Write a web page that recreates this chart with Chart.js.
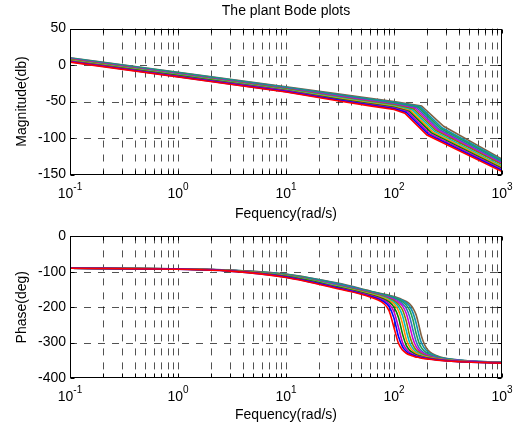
<!DOCTYPE html>
<html>
<head>
<meta charset="utf-8">
<script src="https://cdn.jsdelivr.net/npm/chart.js@4.4.0/dist/chart.umd.min.js"></script>
<style>
  html, body { margin: 0; padding: 0; background: #fff; }
  #wrap { position: relative; width: 514px; height: 427px; }
  .plot { position: absolute; left: 0; width: 514px; }
</style>
</head>
<body>
<div id="wrap">
  <div class="plot" style="top:0;height:224px"><canvas id="mag"></canvas></div>
  <div class="plot" style="top:224px;height:203px"><canvas id="phase"></canvas></div>
</div>
<script>
// --- data (12 curves, 0 = lowest resonance) ---
const magFreqLow = [0.1, 1, 10, 30, 60, 100];
const magLow = [
  [4, -16.5, -37, -49, -56, -61],
  [4.5, -16, -36.5, -48, -55, -60],
  [5, -15.5, -35.5, -47.5, -54, -59],
  [5.5, -14.5, -35, -46.5, -53, -58],
  [6, -14, -34.5, -45.5, -52, -57],
  [6.5, -13.5, -34, -44.5, -51.5, -56],
  [7.5, -13, -33, -44, -50.5, -55],
  [8, -12.5, -32.5, -43, -49.5, -54],
  [8.5, -12, -32, -42, -48.5, -53],
  [9, -11, -31.5, -41, -47.5, -52],
  [9.5, -10.5, -30.5, -40.5, -46.5, -51],
  [10, -10, -30, -39.5, -45.5, -50]
];
const kneeFreq = [126, 130, 134, 139, 143, 148, 153, 158, 163, 169, 174, 180];
const kneeDb = [-66, -65, -64, -63.5, -62.5, -61.5, -60.5, -59.5, -58.5, -58, -57, -56];
const bendFreq = [202, 208, 214, 222, 229, 237, 245, 253, 261, 270, 278, 288];
const bendDb = [-96, -95, -94, -93, -92, -91, -90, -89, -88, -87, -86, -84];
const endFreq = 1000;
const endDb = [-146, -144.5, -143, -141.5, -140, -138.5, -136.5, -135, -133.5, -132, -130.5, -129];

const phaseFreq = [0.1, 1, 3, 10, 30, 60, 80, 90, 100, 110, 120, 130, 140, 150, 160, 170, 180, 200, 250, 400, 1000];
const phaseDeg = [
  [-90, -93, -98, -116, -148, -171, -189, -210, -258, -302, -321, -330, -335, -338, -341, -342, -344, -346, -350, -354, -358],
  [-90, -93, -98, -115, -146, -169, -184, -198, -231, -283, -312, -325, -332, -336, -339, -341, -343, -345, -349, -354, -358],
  [-90, -92, -97, -114, -145, -167, -180, -191, -213, -257, -300, -318, -328, -333, -337, -339, -341, -344, -348, -353, -357],
  [-90, -92, -97, -113, -143, -165, -177, -185, -200, -229, -276, -308, -322, -329, -334, -337, -339, -343, -347, -353, -357],
  [-90, -92, -97, -112, -142, -163, -174, -181, -191, -210, -247, -291, -313, -324, -330, -334, -337, -341, -346, -352, -357],
  [-90, -92, -97, -111, -140, -162, -172, -178, -186, -199, -224, -267, -301, -317, -326, -331, -335, -340, -346, -352, -357],
  [-90, -92, -96, -110, -139, -160, -170, -176, -182, -192, -208, -240, -282, -307, -320, -327, -332, -338, -345, -352, -357],
  [-90, -92, -96, -110, -138, -159, -169, -173, -179, -186, -197, -218, -254, -290, -311, -322, -328, -335, -344, -351, -357],
  [-90, -92, -96, -109, -136, -157, -167, -171, -176, -182, -190, -203, -228, -265, -296, -314, -323, -333, -342, -350, -357],
  [-90, -92, -96, -108, -135, -156, -165, -169, -174, -179, -185, -194, -209, -236, -273, -300, -315, -329, -341, -350, -356],
  [-90, -92, -95, -107, -133, -155, -164, -168, -172, -176, -181, -188, -198, -216, -244, -278, -302, -323, -339, -349, -356],
  [-90, -92, -95, -106, -132, -154, -163, -166, -170, -174, -179, -184, -191, -203, -221, -251, -283, -316, -337, -349, -356]
];

const magTicks = { min: -150, max: 50, step: 50 };
const phaseTicks = { min: -400, max: 0, step: 100 };
const decades = [-1, 0, 1, 2, 3];

const lineColors = ['#ff0000', '#0000ff', '#bf00bf', '#008000', '#ff8c00', '#00bfbf',
                    '#7f7f00', '#d000d0', '#3070c0', '#20a050', '#1090b0', '#806040'];
const FONT = "'Liberation Sans', Arial, Helvetica, sans-serif";
const GRID_COLOR = 'rgba(0,0,0,0.68)';

Chart.defaults.font.family = FONT;
Chart.defaults.color = '#000';

// grid positions at 1..9 x 10^d inside the x range
function logGridValues() {
  const vals = [];
  for (let d = -1; d < 3; d++) {
    for (let m = 1; m <= 9; m++) vals.push(m * Math.pow(10, d));
  }
  vals.push(1000);
  return vals;
}

// MATLAB look: dashed grid, black box, inward ticks, 10^n labels
const matlabAxes = {
  id: 'matlabAxes',
  beforeDatasetsDraw(chart) {
    const { ctx, chartArea: a, scales: { x, y } } = chart;
    ctx.save();
    ctx.strokeStyle = GRID_COLOR;
    ctx.lineWidth = 1;
    ctx.setLineDash([7, 7]);
    ctx.beginPath();
    logGridValues().forEach((v) => {
      const px = Math.round(x.getPixelForValue(v)) + 0.5;
      if (px <= a.left + 1 || px >= a.right - 1) return;
      ctx.moveTo(px, a.top);
      ctx.lineTo(px, a.bottom);
    });
    y.ticks.forEach((t) => {
      const py = Math.round(y.getPixelForValue(t.value)) + 0.5;
      if (py <= a.top + 1 || py >= a.bottom - 1) return;
      ctx.moveTo(a.left, py);
      ctx.lineTo(a.right, py);
    });
    ctx.stroke();
    ctx.restore();
  },
  afterDatasetsDraw(chart) {
    const { ctx, chartArea: a, scales: { x, y } } = chart;
    const L = Math.round(a.left) + 0.5, R = Math.round(a.right) - 0.5;
    const T = Math.round(a.top) + 0.5, B = Math.round(a.bottom) - 0.5;
    ctx.save();
    ctx.strokeStyle = '#000';
    ctx.lineWidth = 1;
    ctx.setLineDash([]);
    ctx.beginPath();
    logGridValues().forEach((v) => {
      const px = Math.round(x.getPixelForValue(v)) + 0.5;
      ctx.moveTo(px, B); ctx.lineTo(px, B - 4);
      ctx.moveTo(px, T); ctx.lineTo(px, T + 4);
    });
    y.ticks.forEach((t) => {
      const py = Math.round(y.getPixelForValue(t.value)) + 0.5;
      ctx.moveTo(L, py); ctx.lineTo(L + 4, py);
      ctx.moveTo(R, py); ctx.lineTo(R - 4, py);
    });
    ctx.stroke();
    ctx.strokeRect(L, T, R - L, B - T);

    // decade tick labels
    ctx.fillStyle = '#000';
    ctx.textBaseline = 'alphabetic';
    ctx.textAlign = 'left';
    decades.forEach((d) => {
      const px = x.getPixelForValue(Math.pow(10, d));
      const base = '10', exp = String(d);
      ctx.font = '14px ' + FONT;
      const wb = ctx.measureText(base).width;
      ctx.font = '10px ' + FONT;
      const we = ctx.measureText(exp).width;
      const x0 = px - (wb + we) / 2;
      ctx.font = '14px ' + FONT;
      ctx.fillText(base, x0, a.bottom + 23);
      ctx.font = '10px ' + FONT;
      ctx.fillText(exp, x0 + wb, a.bottom + 15);
    });
    ctx.restore();
  }
};

function bodeOptions(opts) {
  return {
    responsive: true,
    maintainAspectRatio: false,
    animation: false,
    layout: { padding: { left: 0, right: 12, top: opts.padTop, bottom: 0 } },
    elements: { point: { radius: 0 }, line: { borderWidth: 1.6 } },
    plugins: {
      legend: { display: false },
      tooltip: { enabled: false },
      title: opts.title ? {
        display: true, text: opts.title, fullSize: false, color: '#000',
        font: { size: 14, weight: 'normal' }, padding: { top: 3, bottom: 8.7 }
      } : { display: false }
    },
    scales: {
      x: {
        type: 'logarithmic', min: 0.1, max: 1000,
        ticks: { display: false },
        grid: { display: false, drawTicks: false },
        border: { display: false },
        title: { display: true, text: 'Fequency(rad/s)', color: '#000',
                 font: { size: 14 }, padding: { top: 0, bottom: opts.xTitlePad } },
        afterFit: (s) => { s.height = opts.xHeight; }
      },
      y: {
        type: 'linear', min: opts.ticks.min, max: opts.ticks.max,
        ticks: { stepSize: opts.ticks.step, color: '#000', font: { size: 14 }, padding: 4 },
        grid: { display: false, drawTicks: false },
        border: { display: false },
        title: { display: true, text: opts.yTitle, color: '#000',
                 font: { size: 14 }, padding: { top: 13.5, bottom: 0 } },
        afterFit: (s) => { s.width = 70; }
      }
    }
  };
}

const magDatasets = magLow.map((row, i) => ({
  data: magFreqLow.map((w, k) => ({ x: w, y: row[k] })).concat([
    { x: kneeFreq[i], y: kneeDb[i] },
    { x: bendFreq[i], y: bendDb[i] },
    { x: endFreq, y: endDb[i] }
  ]),
  borderColor: lineColors[i % lineColors.length],
  tension: 0,
  fill: false
}));

const phaseDatasets = phaseDeg.map((row, i) => ({
  data: phaseFreq.map((w, k) => ({ x: w, y: row[k] })),
  borderColor: lineColors[i % lineColors.length],
  cubicInterpolationMode: 'monotone',
  fill: false
}));

new Chart(document.getElementById('mag'), {
  type: 'line',
  data: { datasets: magDatasets },
  options: bodeOptions({ ticks: magTicks, yTitle: 'Magnitude(db)', title: 'The plant Bode plots',
                         padTop: 0, xHeight: 49.5, xTitlePad: 1.6 }),
  plugins: [matlabAxes]
});

new Chart(document.getElementById('phase'), {
  type: 'line',
  data: { datasets: phaseDatasets },
  options: bodeOptions({ ticks: phaseTicks, yTitle: 'Phase(deg)', title: null,
                         padTop: 6, xHeight: 49, xTitlePad: 3.6 }),
  plugins: [matlabAxes]
});
</script>
</body>
</html>
